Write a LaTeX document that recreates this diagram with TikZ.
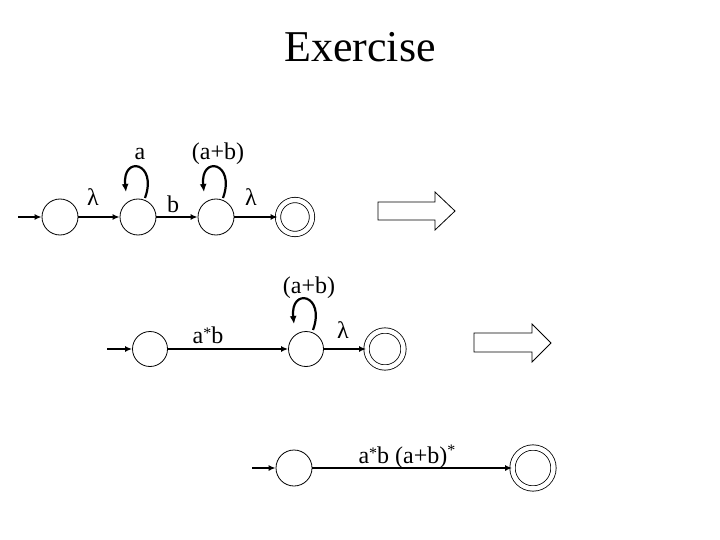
\documentclass[tikz,border=0pt]{standalone}
\usepackage{fontspec}
\setmainfont{Liberation Serif}
\usetikzlibrary{arrows.meta,calc}
\tikzset{
  st/.style={draw,circle,line width=0.8pt,minimum size=36pt,inner sep=0pt},
  fin/.style={draw,circle,line width=0.8pt,minimum size=#1,inner sep=0pt,double distance=4.5pt},
  tr/.style={line width=1.6pt,-{Latex[length=7pt,width=6pt]}},
  lp/.style={line width=2.2pt,-{Latex[length=8pt,width=7pt]}},
  lbl/.style={anchor=base,inner sep=0pt,font=\fontsize{24}{26}\selectfont},
  bigarrow/.style={draw,line width=0.8pt,fill=white}
}
\newcommand{\sast}{\raisebox{5pt}{\fontsize{16}{16}\selectfont *}}
\newcommand{\hast}{\raisebox{8pt}{\fontsize{16}{16}\selectfont *}}
\begin{document}
\begin{tikzpicture}[x=1pt,y=-1pt]
\useasboundingbox (0,0) rectangle (720,540);
\node[anchor=base,inner sep=0pt,font=\fontsize{44}{48}\selectfont] (title) at (360,62) {Exercise};
% row 1
\coordinate (i1) at (18,217);
\node[st] (a1) at (60,217) {};
\node[st] (a2) at (138,217) {};
\node[st] (a3) at (216,217) {};
\node[fin=34pt] (a4) at (295,217) {};
\draw[tr] (i1) -- (a1);
\draw[tr] (a1) -- (a2);
\draw[tr] (a2) -- (a3);
\draw[tr] (a3) -- (a4);
\draw[lp] ($(a2.center)+(7,-19)$) .. controls ($(a2.center)+(20,-55)$) and ($(a2.center)+(-16,-62)$) .. ($(a2.center)+(-12,-25)$);
\draw[lp] ($(a3.center)+(7,-19)$) .. controls ($(a3.center)+(20,-55)$) and ($(a3.center)+(-16,-62)$) .. ($(a3.center)+(-12,-25)$);
\node[lbl] (l1) at (93,206) {λ};
\node[lbl] (l2) at (173,212) {b};
\node[lbl] (l3) at (251,206) {λ};
\node[lbl] (l4) at (140,160) {a};
\node[lbl] (l5) at (218,160) {(a+b)};
\draw[bigarrow] (378,202) -- (435,202) -- (435,192) -- (455,211) -- (435,230) -- (435,220) -- (378,220) -- cycle;
% row 2
\coordinate (i2) at (107,349);
\node[st,minimum size=35pt] (b1) at (150,349) {};
\node[st,minimum size=35pt] (b2) at (306,349) {};
\node[fin=37pt] (b3) at (385,349) {};
\draw[tr] (i2) -- (b1);
\draw[tr] (b1) -- (b2);
\draw[tr] (b2) -- (b3);
\draw[lp] ($(b2.center)+(7,-19)$) .. controls ($(b2.center)+(20,-55)$) and ($(b2.center)+(-16,-62)$) .. ($(b2.center)+(-12,-25)$);
\node[lbl] (m1) at (208,343) {a\sast b};
\node[lbl] (m2) at (343,338) {λ};
\node[lbl] (m3) at (309,293) {(a+b)};
\draw[bigarrow] (474,333) -- (532,333) -- (532,324) -- (551,343) -- (532,362) -- (532,352) -- (474,352) -- cycle;
% row 3
\coordinate (i3) at (252,468);
\node[st] (c1) at (294,468) {};
\node[fin=41pt] (c2) at (533,468) {};
\draw[tr] (i3) -- (c1);
\draw[tr] (c1) -- (c2);
\node[lbl] (n1) at (407,463) {a\sast b (a+b)\hast};
\end{tikzpicture}
\end{document}
